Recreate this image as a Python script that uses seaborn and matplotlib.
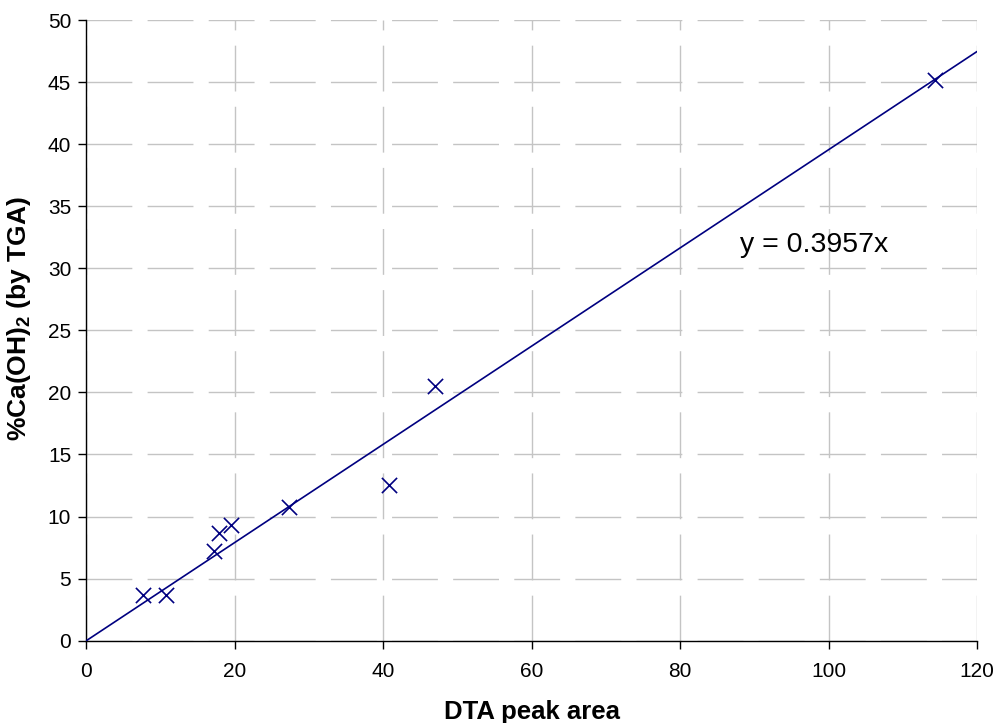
import numpy as np
import pandas as pd
import matplotlib
matplotlib.use("Agg")
import matplotlib.pyplot as plt
import seaborn as sns

# Measured samples
dta_area = [7.6, 10.7, 17.2, 17.9, 19.5, 27.3, 40.8, 47.0, 114.3]
caoh2_tga = [3.65, 3.7, 7.2, 8.7, 9.3, 10.8, 12.5, 20.5, 45.2]
slope = 0.3957
x_ticks = [0, 20, 40, 60, 80, 100, 120]
y_ticks = [0, 5, 10, 15, 20, 25, 30, 35, 40, 45, 50]

sns.set_theme(style="white")
plt.rcParams["font.family"] = ["Liberation Sans", "DejaVu Sans"]
plt.rcParams["text.color"] = "black"
plt.rcParams["axes.labelcolor"] = "black"
plt.rcParams["xtick.color"] = "black"
plt.rcParams["ytick.color"] = "black"
plt.rcParams["mathtext.fontset"] = "custom"
plt.rcParams["mathtext.bf"] = "Liberation Sans:bold"
plt.rcParams["mathtext.rm"] = "Liberation Sans"

df = pd.DataFrame({"x": dta_area, "y": caoh2_tga})
fit = pd.DataFrame({"x": [0, 120]})
fit["y"] = slope * fit["x"]

fig = plt.figure(figsize=(9.94, 7.23), dpi=100)
ax = fig.add_axes([0.087, 0.114, 0.896, 0.858])

navy = "#000080"
sns.lineplot(data=fit, x="x", y="y", ax=ax, color=navy, linewidth=1.2, zorder=3)
sns.scatterplot(data=df, x="x", y="y", ax=ax, marker="x", s=120,
                color=navy, linewidth=1.2, zorder=4)

ax.set_xlim(0, 120)
ax.set_ylim(0, 50)
ax.set_xticks(x_ticks)
ax.set_yticks(y_ticks)
ax.tick_params(axis="both", labelsize=15, direction="out", length=6,
               width=1, color="black", left=True, bottom=True)
ax.tick_params(axis="x", pad=9.5)
ax.tick_params(axis="y", pad=5)

ax.grid(True, color="#c4c4c4", linewidth=1, linestyle=(0, (33, 11)))
ax.set_axisbelow(True)

for side in ["top", "right"]:
    ax.spines[side].set_visible(False)
for side in ["left", "bottom"]:
    ax.spines[side].set_color("black")
    ax.spines[side].set_linewidth(1)

ax.set_xlabel("DTA peak area", fontsize=18.5, fontweight="bold", labelpad=13.5)
ax.set_ylabel("%Ca(OH)$_\\mathbf{2}$ (by TGA)", fontsize=19, fontweight="bold")
ax.yaxis.set_label_coords(-0.060, 0.519)

ax.text(88, 31.9, "y = 0.3957x", fontsize=20.5, va="center", ha="left")

fig.savefig("out.png", dpi=100)
